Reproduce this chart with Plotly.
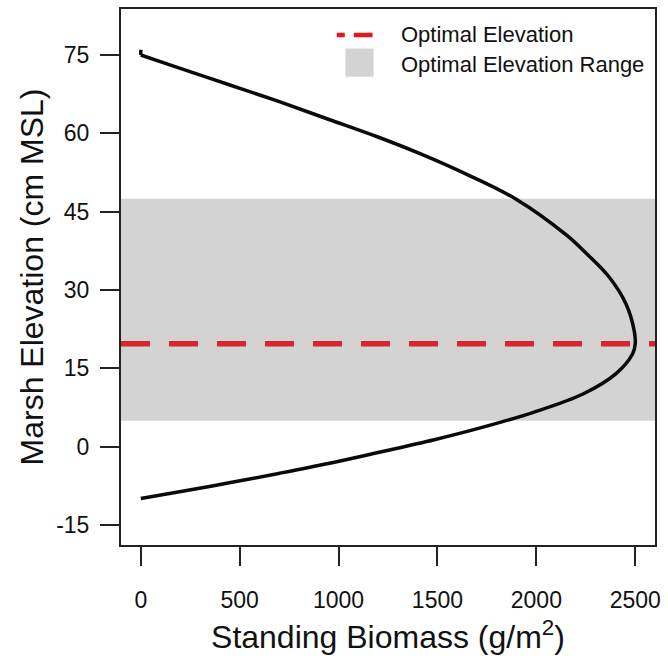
import plotly.graph_objects as go

# Data
elevation = [-9.9, -8.6, -6.9, -5.1, -3.2, -1.1, 1.35, 3.8, 6.6, 10.1, 14.0, 17.8, 19.7,
             22.2, 27.3, 32.4, 37.0, 40.5, 47.3, 52.1, 56.3, 59.3, 62.7, 66.1, 69.3, 72.9, 75, 76]
biomass = [0, 196, 447, 697, 948, 1199, 1484, 1735, 1985, 2236, 2403, 2487, 2500,
           2495, 2454, 2370, 2253, 2153, 1902, 1651, 1400, 1199, 948, 697, 447, 162, 0, 0]
optimal_elevation = 19.7
optimal_range = [5.0, 47.5]
x_ticks = [0, 500, 1000, 1500, 2000, 2500]
y_ticks = [-15, 0, 15, 30, 45, 60, 75]
legend_labels = ["Optimal Elevation", "Optimal Elevation Range"]

FONT = "Liberation Sans, Arial, Helvetica, sans-serif"
TXT = "#111111"
RED = "#d62728"
GRAY = "#d3d3d3"

fig = go.Figure()

# main curve (smooth) and the small vertical end segment
fig.add_trace(go.Scatter(x=biomass[:-1], y=elevation[:-1], mode="lines",
                         line=dict(color="#0a0a0a", width=3.5, shape="spline", smoothing=1.0),
                         showlegend=False, hoverinfo="skip"))
fig.add_trace(go.Scatter(x=biomass[-2:], y=elevation[-2:], mode="lines",
                         line=dict(color="#0a0a0a", width=3.5),
                         showlegend=False, hoverinfo="skip"))

# gray optimal range band
fig.add_shape(type="rect", xref="paper", x0=0, x1=1, yref="y",
              y0=optimal_range[0], y1=optimal_range[1],
              fillcolor=GRAY, line=dict(width=0), layer="below")
# optimal elevation dashed line
fig.add_shape(type="line", xref="paper", x0=0, x1=1, yref="y",
              y0=optimal_elevation, y1=optimal_elevation,
              line=dict(color=RED, width=5.5, dash="29px,19px"), layer="above")

# legend (drawn in paper coordinates, R-style, no box)
fig.add_shape(type="line", xref="paper", yref="paper", x0=0.4041, x1=0.4711,
              y0=0.9517, y1=0.9517, line=dict(color="#e8141c", width=4.5, dash="8px,9px,19px,9px"))
fig.add_shape(type="rect", xref="paper", yref="paper", x0=0.4203, x1=0.4730,
              y0=0.8736, y1=0.9262, fillcolor=GRAY, line=dict(width=0))
for label, ypos in zip(legend_labels, [0.9517, 0.8959]):
    fig.add_annotation(text=label, xref="paper", yref="paper", x=0.5215, y=ypos,
                       xanchor="left", yanchor="middle", showarrow=False,
                       font=dict(family=FONT, size=22, color=TXT))

axis_common = dict(showgrid=False, zeroline=False, showline=True, linecolor="#222222",
                   linewidth=2, mirror=True, ticks="outside", ticklen=19, tickwidth=1.5,
                   tickcolor="#222222", tickfont=dict(family=FONT, size=23, color=TXT))

fig.update_layout(
    width=668, height=662,
    margin=dict(l=121, r=10, t=7, b=117),
    paper_bgcolor="white", plot_bgcolor="white",
    font=dict(family=FONT, color=TXT),
    showlegend=False,
    xaxis=dict(range=[-100, 2600], tickvals=x_ticks, ticktext=[str(v) for v in x_ticks],
               ticklabelstandoff=14,
               title=dict(text="Standing Biomass (g/m<sup>2</sup>)",
                          font=dict(family=FONT, size=32, color=TXT), standoff=14),
               **axis_common),
    yaxis=dict(range=[-18.8, 83.8], tickvals=y_ticks, ticktext=[str(v) for v in y_ticks],
               ticklabelstandoff=6,
               title=dict(text="Marsh Elevation (cm MSL)",
                          font=dict(family=FONT, size=32, color=TXT), standoff=3),
               **axis_common),
)

fig.write_html("out.html", config={"displayModeBar": False},
               post_script="document.body.style.margin='0';")
